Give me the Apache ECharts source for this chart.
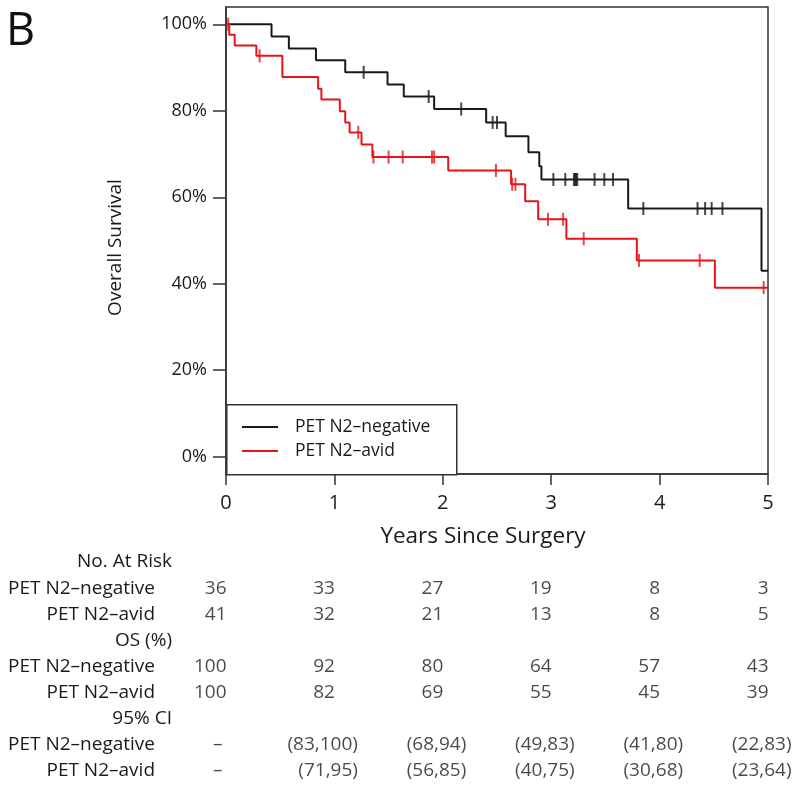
<!DOCTYPE html>
<html><head><meta charset="utf-8">
<script src="https://cdn.jsdelivr.net/npm/echarts@6/dist/echarts.min.js"></script>
<style>html,body{margin:0;padding:0;background:#fff}#c{width:800px;height:788px}</style>
</head><body><div id="c"></div>
<script>
// ---- data ----
const negTimes = [0, 0.42, 0.58, 0.83, 1.10, 1.49, 1.64, 1.92, 2.40, 2.58, 2.79, 2.89, 2.91, 3.71, 4.94, 5.0];
const negSurv  = [100, 97.2, 94.4, 91.7, 88.9, 86.1, 83.3, 80.4, 77.3, 74.1, 70.4, 67.2, 64.1, 57.4, 43.0, 43.0];
const negCensor = [1.27, 1.87, 2.17, 2.46, 2.50, 3.02, 3.13, 3.21, 3.22, 3.23, 3.24, 3.40, 3.49, 3.57, 3.85, 4.35, 4.42, 4.48, 4.58];

const avidTimes = [0, 0.03, 0.08, 0.28, 0.52, 0.85, 0.88, 1.05, 1.10, 1.14, 1.25, 1.35, 2.05, 2.63, 2.76, 2.88, 3.14, 3.79, 4.51, 5.0];
const avidSurv  = [100, 97.6, 95.1, 92.7, 87.8, 85.1, 82.6, 79.9, 77.3, 75.0, 72.2, 69.3, 66.2, 63.0, 59.1, 54.9, 50.4, 45.4, 39.1, 39.1];
const avidCensor = [0.02, 0.31, 1.22, 1.36, 1.50, 1.63, 1.90, 1.92, 2.49, 2.64, 2.67, 2.97, 3.11, 3.30, 3.81, 4.37, 4.96];

const xTicks = [0, 1, 2, 3, 4, 5];
const yTicks = [0, 20, 40, 60, 80, 100];
const seriesNames = ['PET N2\u2013negative', 'PET N2\u2013avid'];

const rowLabels = ['No. At Risk', 'PET N2\u2013negative', 'PET N2\u2013avid', 'OS (%)', 'PET N2\u2013negative', 'PET N2\u2013avid', '95% CI', 'PET N2\u2013negative', 'PET N2\u2013avid'];
const rowIsHeader = [true, false, false, true, false, false, true, false, false];
const atRiskNeg = ['36', '33', '27', '19', '8', '3'];
const atRiskAvid = ['41', '32', '21', '13', '8', '5'];
const osNeg = ['100', '92', '80', '64', '57', '43'];
const osAvid = ['100', '82', '69', '55', '45', '39'];
const ciNeg = ['\u2013', '(83,100)', '(68,94)', '(49,83)', '(41,80)', '(22,83)'];
const ciAvid = ['\u2013', '(71,95)', '(56,85)', '(40,75)', '(30,68)', '(23,64)'];

// ---- styling ----
const FONT = '"Open Sans", sans-serif';
const TXT = '#1a1a1a';
const BLACK = '#1a1a1a';
const RED = '#e8141c';
const TFS = 19;

function survAt(times, surv, t) {
  let v = surv[0];
  for (let i = 0; i < times.length; i++) if (times[i] <= t) v = surv[i];
  return v;
}

function tableRow(rowIdx, arr, isCI) {
  return {
    type: 'scatter', xAxisIndex: 1, yAxisIndex: 1, silent: true,
    symbolSize: 1, itemStyle: { color: 'rgba(0,0,0,0)' },
    data: arr.map((s, i) => ({
      value: [xTicks[i], rowIdx],
      label: { offset: [isCI && i > 0 ? 24 : (isCI ? -3 : 1), 0] }
    })),
    label: {
      show: true, position: 'left', distance: 0,
      formatter: p => arr[p.dataIndex],
      color: TXT, fontSize: TFS, fontFamily: FONT
    }
  };
}

const chart = echarts.init(document.getElementById('c'), null, { renderer: 'canvas' });
chart.setOption({
  animation: false,
  backgroundColor: '#fff',
  title: { text: 'B', left: 1, top: 5, textStyle: { fontSize: 45, fontWeight: 'normal', color: '#111', fontFamily: FONT } },
  grid: [
    { left: 226, right: 32, top: 7, bottom: 314, show: true, borderColor: '#333', borderWidth: 1.5, backgroundColor: 'transparent' },
    { left: 226, right: 32, top: 549, bottom: 4 }
  ],
  xAxis: [
    {
      type: 'value', gridIndex: 0, min: 0, max: 5, interval: 1,
      axisLine: { show: true, onZero: false, lineStyle: { color: '#333', width: 1.5 } },
      axisTick: { show: true, length: 11, lineStyle: { color: '#333', width: 1.5 } },
      axisLabel: { fontSize: 20, color: TXT, fontFamily: FONT, margin: 19 },
      splitLine: { show: false },
      name: 'Years Since Surgery', nameLocation: 'middle', nameGap: 51,
      nameTextStyle: { fontSize: 22.5, color: TXT, fontFamily: FONT, padding: [0, 28, 0, 0] }
    },
    { type: 'value', gridIndex: 1, min: 0, max: 5, show: false }
  ],
  yAxis: [
    {
      type: 'value', gridIndex: 0, min: -4, max: 104,
      axisLine: { show: true, onZero: false, lineStyle: { color: '#333', width: 1.5 } },
      axisTick: { show: true, length: 13, customValues: yTicks, lineStyle: { color: '#333', width: 1.5 } },
      axisLabel: { customValues: yTicks, formatter: v => v + '%', fontSize: 18, color: TXT, fontFamily: FONT, margin: 19 },
      splitLine: { show: false },
      name: 'Overall Survival', nameLocation: 'middle', nameGap: 101,
      nameTextStyle: { fontSize: 19, color: TXT, fontFamily: FONT, padding: [0, 14, 0, 0] }
    },
    {
      type: 'category', gridIndex: 1, inverse: true,
      data: rowLabels.map((s, i) => 'r' + i),
      axisLine: { show: false }, axisTick: { show: false }, splitLine: { show: false },
      axisLabel: {
        margin: 54, interval: 0,
        formatter: (v, i) => (rowIsHeader[i] ? '{h|' : '{r|') + rowLabels[i] + '}',
        rich: {
          h: { fontSize: TFS, color: TXT, fontFamily: FONT },
          r: { fontSize: TFS, color: TXT, fontFamily: FONT, padding: [0, 17, 0, 0] }
        }
      }
    }
  ],
  legend: {
    data: seriesNames, orient: 'vertical', left: 242, top: 418, padding: 0,
    itemWidth: 36, itemHeight: 2, icon: 'rect', itemGap: 6,
    formatter: n => '{t|' + n + '}',
    textStyle: { rich: { t: { fontSize: 17.5, color: TXT, fontFamily: FONT, padding: [0, 0, 0, 12] } } }
  },
  graphic: [
    { type: 'rect', left: 226, top: 404, shape: { width: 230, height: 70 }, style: { fill: '#fff', stroke: '#333', lineWidth: 1.5 }, z: 1 }
  ],
  series: [
    {
      type: 'line', name: seriesNames[0], step: 'end', symbol: 'none', z: 3,
      data: negTimes.map((t, i) => [t, negSurv[i]]),
      lineStyle: { color: BLACK, width: 2 }, itemStyle: { color: BLACK }
    },
    {
      type: 'scatter', name: 'neg-censor', symbol: 'rect', symbolSize: [2, 13], silent: true, z: 3,
      data: negCensor.map(t => [t, survAt(negTimes, negSurv, t)]),
      itemStyle: { color: BLACK }
    },
    {
      type: 'line', name: seriesNames[1], step: 'end', symbol: 'none', z: 4,
      data: avidTimes.map((t, i) => [t, avidSurv[i]]),
      lineStyle: { color: RED, width: 2 }, itemStyle: { color: RED }
    },
    {
      type: 'scatter', name: 'avid-censor', symbol: 'rect', symbolSize: [2, 13], silent: true, z: 4,
      data: avidCensor.map(t => [t, survAt(avidTimes, avidSurv, t)]),
      itemStyle: { color: RED }
    },
    tableRow(1, atRiskNeg, false),
    tableRow(2, atRiskAvid, false),
    tableRow(4, osNeg, false),
    tableRow(5, osAvid, false),
    tableRow(7, ciNeg, true),
    tableRow(8, ciAvid, true)
  ]
});
</script></body></html>
